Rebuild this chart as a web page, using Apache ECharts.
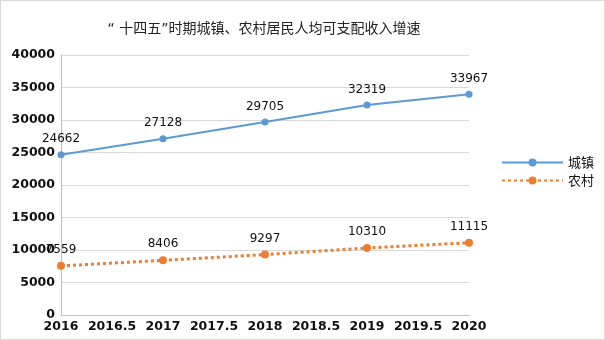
<!DOCTYPE html>
<html><head><meta charset="utf-8">
<script src="https://cdn.jsdelivr.net/npm/echarts@6/dist/echarts.min.js"></script>
<style>html,body{margin:0;padding:0;background:#fff;}#c{width:603px;height:338px;border:1px solid #d9d9d9;}</style>
</head><body><div id="c"></div>
<script>
var years = [2016, 2017, 2018, 2019, 2020];
var urban = [24662, 27128, 29705, 32319, 33967];
var rural = [7559, 8406, 9297, 10310, 11115];
var seriesNames = ['城镇', '农村'];
var titleText = '“ 十四五”时期城镇、农村居民人均可支配收入增速';

var chart = echarts.init(document.getElementById('c'));
function pairs(v){ return years.map(function(y,i){ return [y, v[i]]; }); }
function plain(v){ return String(v); }
chart.setOption({
  animation: false,
  title: { text: titleText, left: 258, textAlign: 'center', top: 16, textStyle: { fontFamily: 'DejaVu Sans, Noto Sans CJK SC', fontSize: 14, fontWeight: 'normal', color: '#222' } },
  grid: { left: 60, right: 135, top: 54, bottom: 24 },
  legend: {
    orient: 'vertical', right: 5, top: 150, itemGap: 5, itemWidth: 61, itemHeight: 10,
    textStyle: { fontFamily: 'Noto Sans CJK SC', fontSize: 13, color: '#111' },
    data: seriesNames
  },
  xAxis: {
    type: 'value', min: 2016, max: 2020, interval: 0.5,
    axisLine: { lineStyle: { color: '#bfbfbf' } }, axisTick: { show: false },
    splitLine: { show: false },
    axisLabel: { fontFamily: 'DejaVu Sans', fontWeight: 'bold', fontSize: 12.5, color: '#111', margin: 5, formatter: plain }
  },
  yAxis: {
    type: 'value', min: 0, max: 40000, interval: 5000,
    axisLine: { show: true, lineStyle: { color: '#bfbfbf' } }, axisTick: { show: false },
    splitLine: { lineStyle: { color: '#d9d9d9' } },
    axisLabel: { fontFamily: 'DejaVu Sans', fontWeight: 'bold', fontSize: 12.5, color: '#111', margin: 6, formatter: plain }
  },
  series: [
    { name: seriesNames[0], type: 'line', data: pairs(urban), symbol: 'circle', symbolSize: 7,
      lineStyle: { color: '#5b9bd5', width: 2 }, itemStyle: { color: '#5b9bd5' },
      label: { show: true, position: 'top', distance: 6, fontFamily: 'DejaVu Sans', fontSize: 12, color: '#111' } },
    { name: seriesNames[1], type: 'line', data: pairs(rural), symbol: 'circle', symbolSize: 8,
      lineStyle: { color: '#ed7d31', width: 3, type: [3, 3] }, itemStyle: { color: '#ed7d31' },
      label: { show: true, position: 'top', distance: 6, fontFamily: 'DejaVu Sans', fontSize: 12, color: '#111' } }
  ]
});
</script></body></html>
